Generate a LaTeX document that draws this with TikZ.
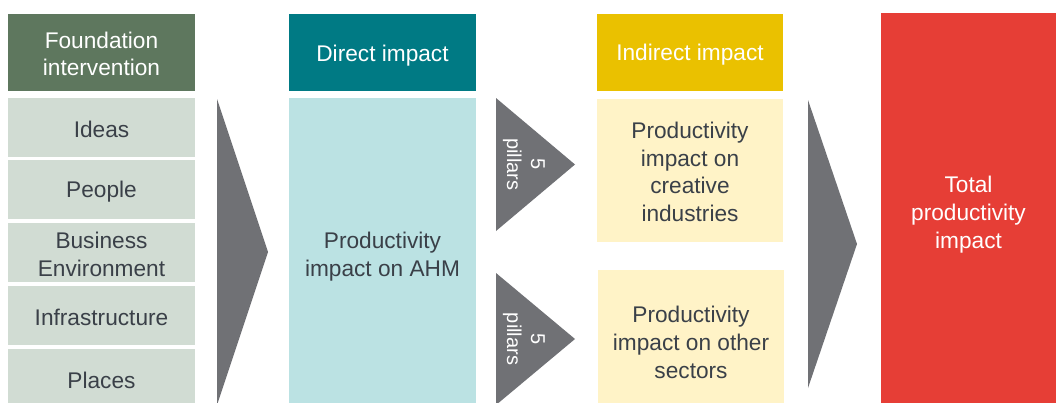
\documentclass[tikz,border=0pt]{standalone}
\usepackage{fontspec}
\setmainfont{Liberation Sans}
\newcommand\pxu{0.75pt}
\definecolor{fndDark}{HTML}{5E775E}
\definecolor{fndLight}{HTML}{D1DCD3}
\definecolor{chevron}{HTML}{707175}
\definecolor{tealDark}{HTML}{007A84}
\definecolor{tealLight}{HTML}{BBE2E3}
\definecolor{goldDark}{HTML}{EAC100}
\definecolor{goldLight}{HTML}{FFF3C7}
\definecolor{totalRed}{HTML}{E63E36}
\definecolor{bodyText}{HTML}{3A4048}
\tikzset{
  bx/.style 2 args={rectangle, inner sep=0pt, minimum width=#1*\pxu, minimum height=#2*\pxu},
  txt/.style={inner sep=0pt, align=center, font=\fontsize{17}{20.8}\selectfont},
  head/.style={txt, text=white},
  body/.style={txt, text=bodyText},
  pillar/.style={text=white, rotate=-90, align=center, inner sep=0pt,
    font=\fontsize{15}{18}\selectfont},
}
\begin{document}
\begin{tikzpicture}[x=\pxu, y=-\pxu]
\useasboundingbox (0,0) rectangle (1056,403);
\clip (0,0) rectangle (1056,403);

% column 1: foundation interventions
\node[bx={187}{77}, fill=fndDark] (fnd) at (101.5,53) {};
\node[head] (fnd-t) at ([yshift=-1*\pxu]fnd.center) {Foundation\\intervention};
\node[bx={187}{59}, fill=fndLight] (ideas)  at (101.5,127.5) {};
\node[body] (ideas-t) at ([yshift=-2*\pxu]ideas.center) {Ideas};
\node[bx={187}{59}, fill=fndLight] (people) at (101.5,189.5) {};
\node[body] (people-t) at ([yshift=-2*\pxu]people.center) {People};
\node[bx={187}{59}, fill=fndLight] (busenv) at (101.5,252.5) {};
\node[body] (busenv-t) at ([yshift=-2*\pxu]busenv.center) {Business\\Environment};
\node[bx={187}{59}, fill=fndLight] (infra)  at (101.5,315.5) {};
\node[body] (infra-t) at ([yshift=-2*\pxu]infra.center) {Infrastructure};
\node[bx={187}{59}, fill=fndLight] (places) at (101.5,378.5) {};
\node[body] (places-t) at ([yshift=-2*\pxu]places.center) {Places};

% chevron into direct impact
\fill[chevron] (217,99) -- (268,252) -- (217,405) -- cycle;

% column 2: direct impact
\node[bx={187}{77}, fill=tealDark] (direct) at (382.5,53) {};
\node[head] (direct-t) at ([yshift=-3*\pxu]direct.center) {Direct impact};
\node[bx={187}{312}, fill=tealLight] (ahm) at (382.5,254) {};
\node[body] (ahm-t) at ([yshift=-3*\pxu]ahm.center) {Productivity\\impact on AHM};

% pillar triangles
\fill[chevron] (496,98) -- (575,164.5) -- (496,231) -- cycle;
\node[pillar] (pil1) at (524,164.5) {5\\pillars};
\fill[chevron] (496,273) -- (575,339) -- (496,405) -- cycle;
\node[pillar] (pil2) at (524,339) {5\\pillars};

% column 3: indirect impact
\node[bx={186}{77}, fill=goldDark] (indirect) at (690,52.5) {};
\node[head] (indirect-t) at ([yshift=-2*\pxu]indirect.center) {Indirect impact};
\node[bx={186}{143}, fill=goldLight] (creative) at (690,170) {};
\node[body] (creative-t) at ([yshift=-2*\pxu]creative.center) {Productivity\\impact on\\creative\\industries};
\node[bx={186}{142}, fill=goldLight] (other) at (691,340.5) {};
\node[body] (other-t) at ([yshift=-2*\pxu]other.center) {Productivity\\impact on other\\sectors};

% chevron into total
\fill[chevron] (808,100) -- (857,244) -- (808,388) -- cycle;

% column 4: total
\node[bx={175}{398}, fill=totalRed] (total) at (968.5,212.5) {};
\node[head] (total-t) at ([yshift=-2*\pxu]total.center) {Total\\productivity\\impact};
\end{tikzpicture}
\end{document}
